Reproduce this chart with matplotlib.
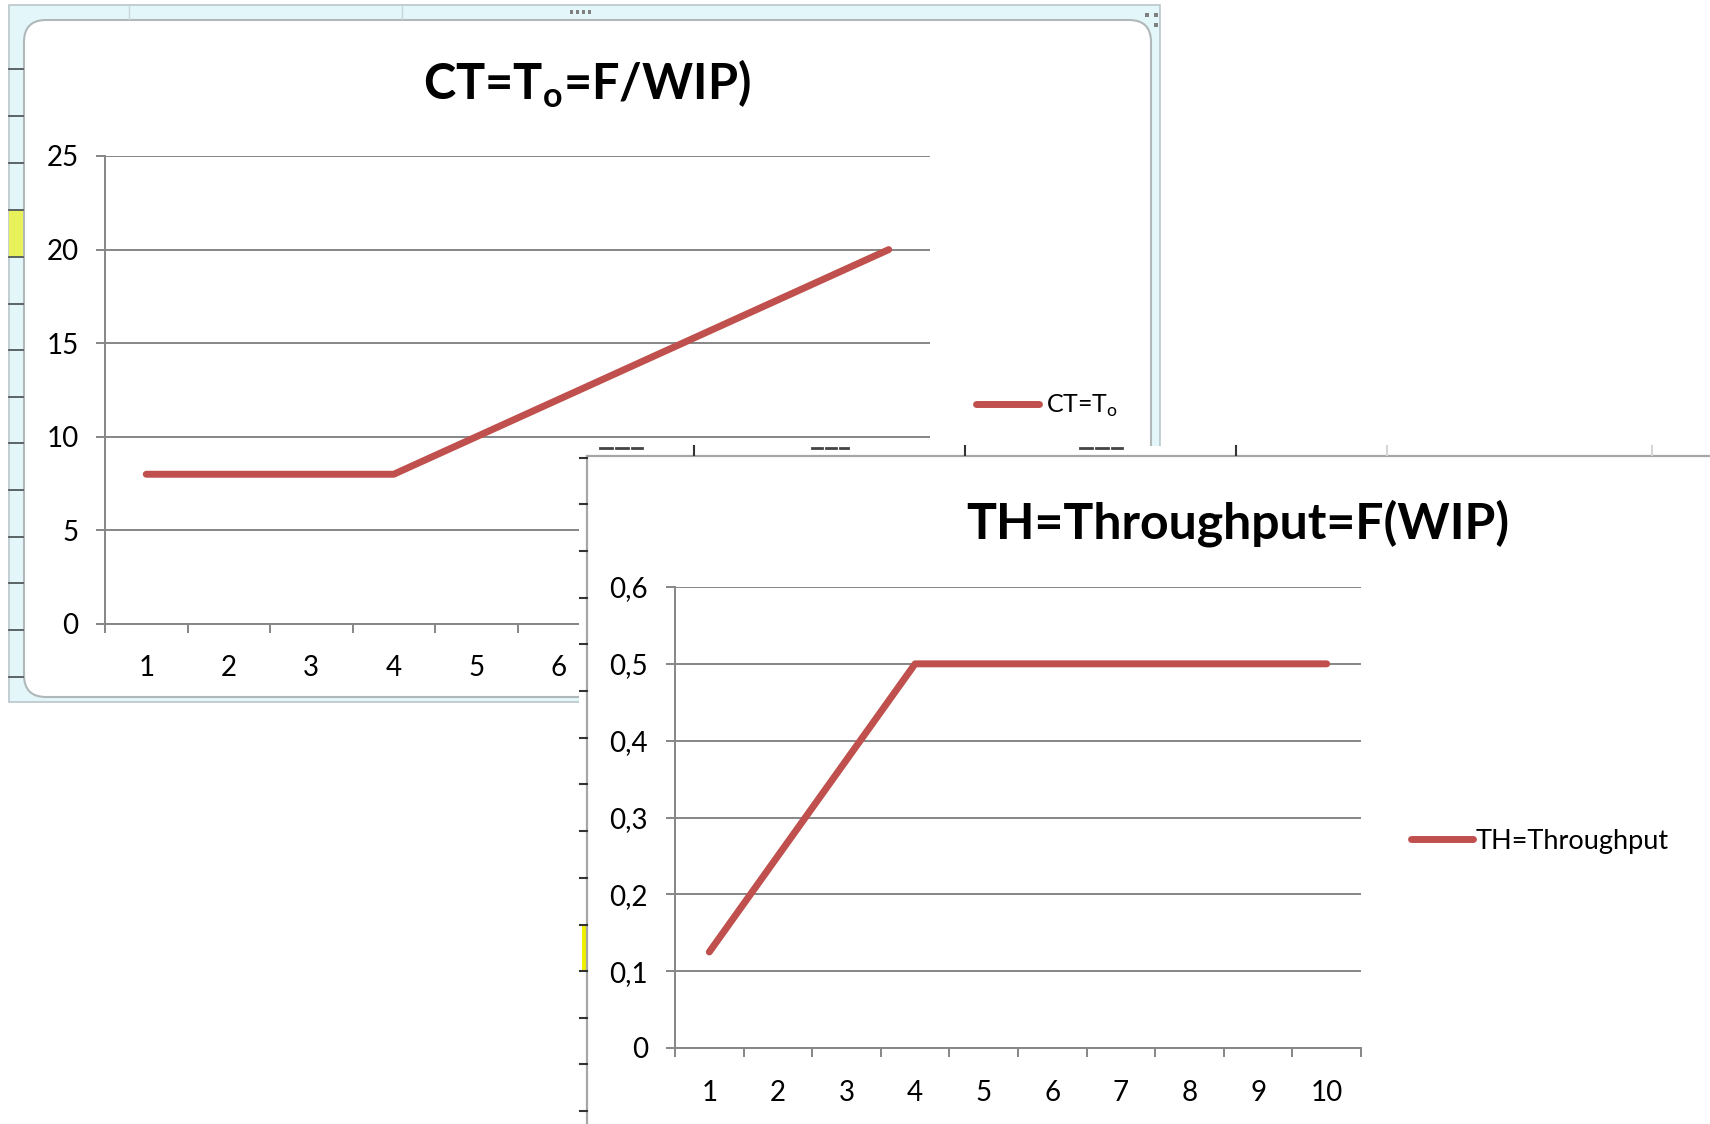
import matplotlib
matplotlib.use("Agg")
import matplotlib.pyplot as plt
from matplotlib.patches import Rectangle, FancyBboxPatch
from matplotlib.lines import Line2D
from matplotlib.transforms import Affine2D

plt.rcParams['font.family'] = ['Lato', 'DejaVu Sans']

# data
wip = [1, 2, 3, 4, 5, 6, 7, 8, 9, 10]
ct = [8, 8, 8, 8, 10, 12, 14, 16, 18, 20]
th = [0.125, 0.25, 0.375, 0.5, 0.5, 0.5, 0.5, 0.5, 0.5, 0.5]
ct_yticks = [0, 5, 10, 15, 20, 25]
th_yticks = [0, 0.1, 0.2, 0.3, 0.4, 0.5, 0.6]
th_ylabels = ['0', '0,1', '0,2', '0,3', '0,4', '0,5', '0,6']

W, H = 1710, 1124
red = '#c0504d'
grid = '#868686'
cyan = '#e3f6f9'

fig = plt.figure(figsize=(W / 100, H / 100), dpi=100)
# pixel coords measured from the top left corner
px = Affine2D().scale(1 / 100, -1 / 100).translate(0, H / 100) + fig.dpi_scale_trans


def box(x0, y0, x1, y1):
    return [x0 / W, 1 - y1 / H, (x1 - x0) / W, (y1 - y0) / H]


def line(x, y, **kw):
    fig.add_artist(Line2D(x, y, transform=px, **kw))


# ---- chart 1 frame (spreadsheet look) ----
fig.add_artist(Rectangle((9, 5), 1151, 697, transform=px, facecolor=cyan,
                         edgecolor='#b9c7cb', lw=1.2, zorder=0))
fig.add_artist(FancyBboxPatch((24, 20), 1127, 677, transform=px,
                              boxstyle='round,pad=0,rounding_size=22',
                              facecolor='white', edgecolor='#b0b8ba', lw=1.5, zorder=0.1))
line([129, 129], [6, 19], color='#c8d6da', lw=1, zorder=0.2)
line([402, 402], [6, 19], color='#c8d6da', lw=1, zorder=0.2)
for xx in [570, 576, 582, 588]:
    fig.add_artist(Rectangle((xx, 10), 3, 4, transform=px, facecolor='#808080',
                             edgecolor='none', zorder=0.2))
for xx, yy in [(1145, 13), (1154, 13), (1154, 23)]:
    fig.add_artist(Rectangle((xx, yy), 4, 4, transform=px, facecolor='#808080',
                             edgecolor='none', zorder=0.2))
fig.add_artist(Rectangle((9, 210), 14, 47, transform=px, facecolor='#e8f05a',
                         edgecolor='none', zorder=0.15))
for yy in [69, 116, 163, 210, 257, 304, 350, 397, 443, 490, 537, 583, 630, 677]:
    line([9, 23], [yy, yy], color='#50595c', lw=1.3, zorder=0.2)

fig.text(587 / W, 1 - 84 / H, 'CT=T$_\\mathregular{o}$=F/WIP)', ha='center', va='center',
         fontsize=35, fontweight='bold', zorder=1)

ax1 = fig.add_axes(box(105, 156, 930, 624), zorder=1)
ax1.plot(wip, ct, color=red, lw=5, solid_capstyle='round', label='CT=T$_\\mathregular{o}$')
ax1.set_xlim(0.5, 10.5)
ax1.set_ylim(0, 25)
ax1.set_xticks(wip)
# labels 7..10 sit under the second chart
ax1.set_xticklabels([str(w) if w <= 6 else '' for w in wip])
ax1.set_xticks([w + 0.5 for w in [0] + wip], minor=True)
ax1.set_yticks(ct_yticks)
ax1.tick_params(axis='x', which='major', length=0, pad=22, labelsize=20)
ax1.tick_params(axis='x', which='minor', length=6.5, width=1.4, color=grid)
ax1.tick_params(axis='y', length=6.5, width=1.4, color=grid, pad=12.5, labelsize=20)
ax1.yaxis.grid(True, color=grid, lw=1.4)
ax1.set_axisbelow(True)
for s in ['top', 'right']:
    ax1.spines[s].set_visible(False)
for s in ['left', 'bottom']:
    ax1.spines[s].set_color(grid)
    ax1.spines[s].set_linewidth(1.4)
ax1.legend(loc='center left', bbox_to_anchor=(976 / W, 1 - 406 / H),
           bbox_transform=fig.transFigure, frameon=False, fontsize=18,
           handlelength=2.5, handletextpad=0.3, borderpad=0, borderaxespad=0)

# ---- chart 2 pasted on top ----
fig.add_artist(Rectangle((579, 446), W, H, transform=px, facecolor='white',
                         edgecolor='none', zorder=2))
line([587, W], [456, 456], color='#a6a6a6', lw=1.6, zorder=2.1)
line([587, 587], [456, H], color='#a6a6a6', lw=1.6, zorder=2.1)
for xx in [694, 965, 1236]:
    line([xx, xx], [446, 455], color='#333333', lw=1.5, zorder=2.1)
for xx in [1387, 1652]:
    line([xx, xx], [446, 455], color='#d6d6d6', lw=1.5, zorder=2.1)
for x0, x1 in [(600, 612), (616, 628), (632, 642), (812, 822), (826, 836), (840, 848),
               (1080, 1092), (1096, 1108), (1112, 1122)]:
    line([x0, x1], [448, 448], color='#444444', lw=2, zorder=2.1)
fig.add_artist(Rectangle((582, 925), 5, 46, transform=px, facecolor='#f0f000',
                         edgecolor='none', zorder=2.05))
for yy in [458, 504, 551, 598, 644, 691, 738, 784, 831, 878, 925, 971, 1018, 1064, 1111]:
    line([580, 587], [yy, yy], color='#333333', lw=1.5, zorder=2.1)

fig.text(1238 / W, 1 - 523 / H, 'TH=Throughput=F(WIP)', ha='center', va='center',
         fontsize=36, fontweight='bold', zorder=4)

ax2 = fig.add_axes(box(675, 587, 1361, 1048), zorder=3)
ax2.plot(wip, th, color=red, lw=5, solid_capstyle='round', label='TH=Throughput')
ax2.set_xlim(0.5, 10.5)
ax2.set_ylim(0, 0.6)
ax2.set_xticks(wip)
ax2.set_xticklabels([str(w) for w in wip])
ax2.set_xticks([w + 0.5 for w in [0] + wip], minor=True)
ax2.set_yticks(th_yticks)
ax2.set_yticklabels(th_ylabels)
ax2.tick_params(axis='x', which='major', length=0, pad=23, labelsize=20)
ax2.tick_params(axis='x', which='minor', length=6.5, width=1.4, color=grid)
ax2.tick_params(axis='y', length=6.5, width=1.4, color=grid, pad=13, labelsize=20)
ax2.yaxis.grid(True, color=grid, lw=1.4)
ax2.set_axisbelow(True)
for s in ['top', 'right']:
    ax2.spines[s].set_visible(False)
for s in ['left', 'bottom']:
    ax2.spines[s].set_color(grid)
    ax2.spines[s].set_linewidth(1.4)
ax2.legend(loc='center left', bbox_to_anchor=(1411 / W, 1 - 841 / H),
           bbox_transform=fig.transFigure, frameon=False, fontsize=19.5,
           handlelength=2.3, handletextpad=0.1, borderpad=0, borderaxespad=0)

fig.savefig('out.png', dpi=100)
